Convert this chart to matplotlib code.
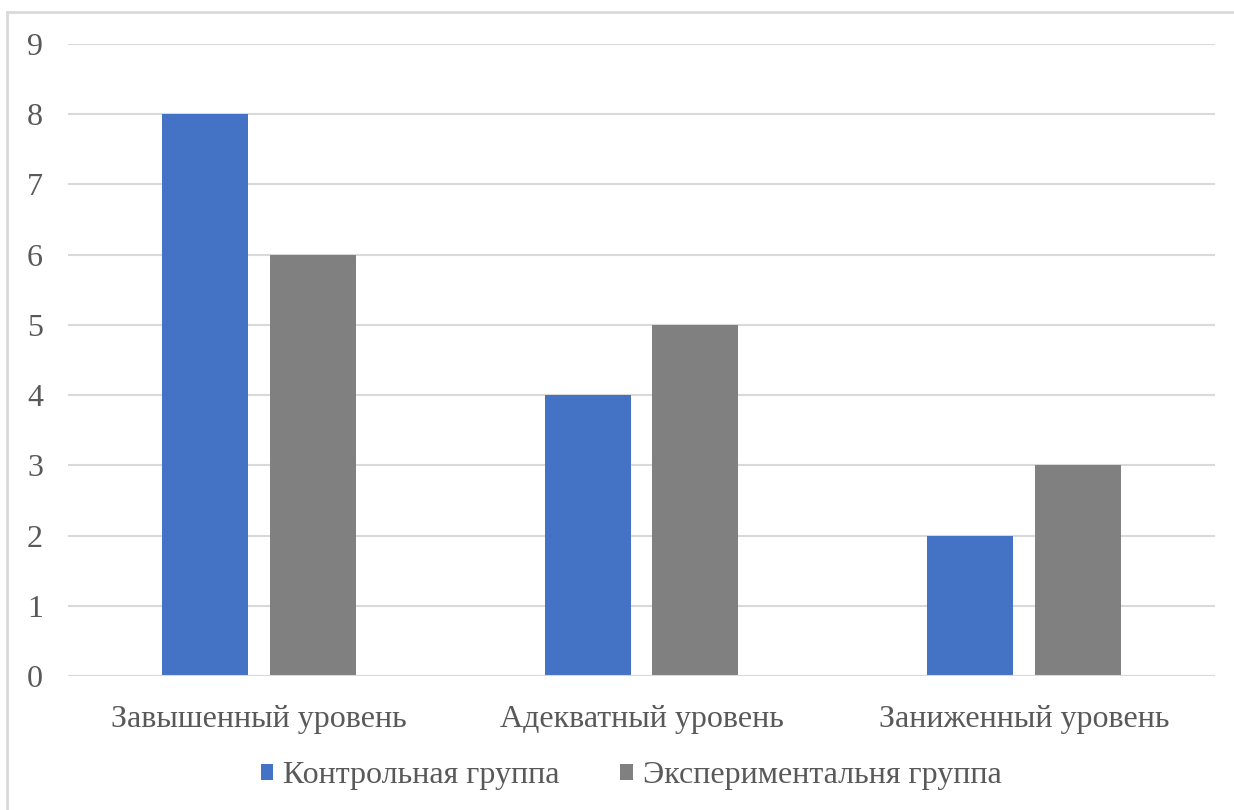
import numpy as np
import matplotlib.pyplot as plt
from matplotlib.lines import Line2D

# Data
categories = ['Завышенный уровень', 'Адекватный уровень', 'Заниженный уровень']
control = [8, 4, 2]
experimental = [6, 5, 3]
series_names = ['Контрольная группа', 'Экспериментальня группа']

plt.rcParams['font.family'] = ['Liberation Serif', 'DejaVu Serif']
text_color = '#595959'
grid_color = '#D9D9D9'

W, H = 1234, 810
fig = plt.figure(figsize=(W / 100, H / 100), dpi=100)
ax = fig.add_axes([68 / W, 1 - 676 / H, (1215 - 68) / W, (676 - 44) / H])

x = np.arange(len(categories))
width = 0.225
offset = 0.141
ax.bar(x - offset, control, width, color='#4472C4', label=series_names[0], zorder=3)
ax.bar(x + offset, experimental, width, color='#808080', label=series_names[1], zorder=3)

ax.set_xlim(-0.5, 2.5)
ax.set_ylim(0, 9)
ax.set_yticks(range(10))
ax.yaxis.grid(True, color=grid_color, linewidth=1.5, zorder=0)
for s in ax.spines.values():
    s.set_visible(False)
ax.axhline(0, color=grid_color, linewidth=1.5, zorder=4)

ax.set_xticks(x)
ax.set_xticklabels(categories)
ax.tick_params(axis='both', length=0, labelsize=23, colors=text_color)
ax.tick_params(axis='x', pad=21)
ax.tick_params(axis='y', pad=18)

leg = fig.legend(loc='center', bbox_to_anchor=(0.5 + 14 / W, 1 - 776 / H), ncol=2,
                 frameon=False, fontsize=23, handlelength=0.4, handleheight=0.4,
                 handletextpad=0.3, columnspacing=1.9)
for t in leg.get_texts():
    t.set_color(text_color)

# outer chart border
fig.add_artist(Line2D([7 / W, 7 / W], [0, 1 - 12 / H], transform=fig.transFigure,
                      color=grid_color, linewidth=2))
fig.add_artist(Line2D([7 / W, 1], [1 - 12 / H, 1 - 12 / H], transform=fig.transFigure,
                      color=grid_color, linewidth=2))

plt.savefig('out.png', dpi=100)
